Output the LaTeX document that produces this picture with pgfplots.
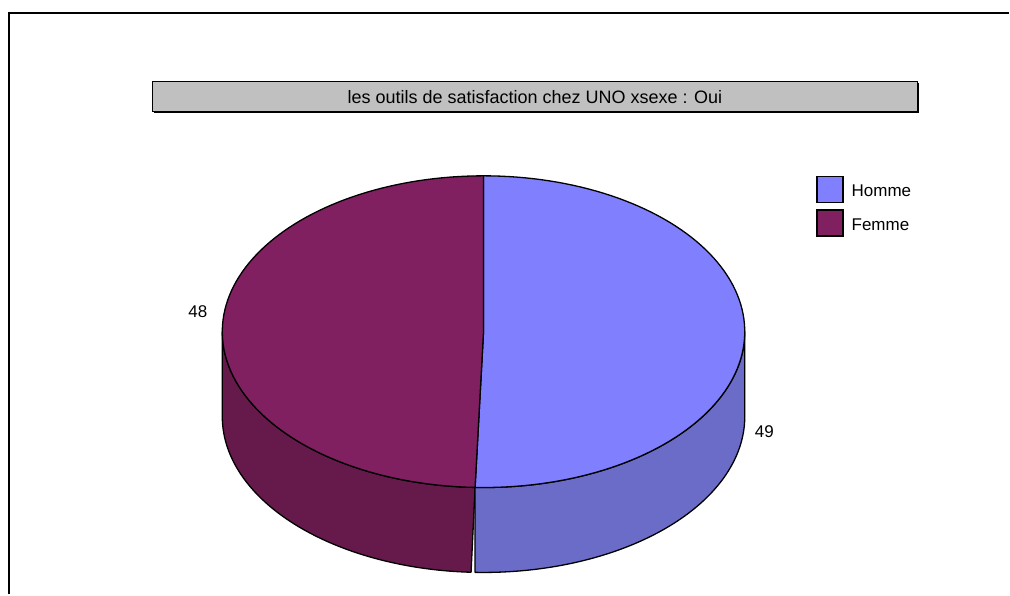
\documentclass[border=0pt]{standalone}
\usepackage{fontspec}
\setmainfont{Liberation Sans}
\usepackage{pgfplots}
\usepackage{pgfplotstable}
\pgfplotsset{compat=1.18}
\definecolor{homtop}{RGB}{128,128,255}
\definecolor{homside}{RGB}{107,107,200}
\definecolor{femtop}{RGB}{128,32,96}
\definecolor{femside}{RGB}{102,26,76}
\definecolor{titlegray}{RGB}{192,192,192}

\pgfplotstableread{
label value
Homme 49
Femme 48
}\piedata

\def\cx{484}\def\cy{332}\def\rx{261.5}\def\ry{156}\def\dd{85}

\newcommand\sideplot[3]{%
\addplot[fill=#1, draw=black, line width=1.3pt, line join=round, domain=0:2, samples=201, variable=\t, forget plot]
 ({\cx+\rx*cos(ifthenelse(\t<1.001, (#2)+((#3)-(#2))*\t, (#3)-((#3)-(#2))*(\t-1)))},
  {\cy-\ry*sin(ifthenelse(\t<1.001, (#2)+((#3)-(#2))*\t, (#3)-((#3)-(#2))*(\t-1)))+ifthenelse(\t<1.001,0,\dd)}) -- cycle;}

\newcommand\sectorplot[3]{%
\addplot[fill=#1, draw=black, line width=1.3pt, line join=round, samples at={-1,0,1,...,100}, variable=\t, forget plot]
 ({ifthenelse(\t<0, \cx, \cx+\rx*cos((#2)+((#3)-(#2))*\t/100))},
  {ifthenelse(\t<0, \cy, \cy-\ry*sin((#2)+((#3)-(#2))*\t/100))}) -- cycle;}

\begin{document}%
\pgfplotstablegetelem{0}{value}\of\piedata \edef\vH{\pgfplotsretval}%
\pgfplotstablegetelem{1}{value}\of\piedata \edef\vF{\pgfplotsretval}%
\pgfmathsetmacro\aB{90-360*(\vH/(\vH+\vF))}%
\pgfmathsetmacro\aF{360+\aB}%
\begin{tikzpicture}
\begin{axis}[
  width=1010pt, height=595pt, scale only axis,
  xmin=0, xmax=1010, ymin=0, ymax=595, y dir=reverse,
  hide axis, clip=false,
  legend style={at={(axis cs:817,176)}, anchor=north west, draw=none, fill=none,
    inner sep=0pt, row sep=6pt, column sep=8pt,
    font=\fontsize{17}{20}\selectfont, nodes={inner sep=0pt}},
  legend cell align=left,
  legend image code/.code={\draw[#1,draw=black,line width=1.3pt] (0pt,-11pt) rectangle (26pt,15pt);},
]
% keep the full canvas as bounding box
\path (axis cs:0,0) rectangle (axis cs:1010,595);
% side walls
\sideplot{femside}{180}{\aF}
\sideplot{homside}{\aF}{360}
% top faces
\sectorplot{homtop}{\aB}{90}
\sectorplot{femtop}{90}{\aF}

\addlegendimage{fill=homtop}
\addlegendentry{Homme}
\addlegendimage{fill=femtop}
\addlegendentry{Femme}

% data labels
\node[font=\fontsize{17}{20}\selectfont] at (axis cs:198,312) {\vF};
\node[font=\fontsize{17}{20}\selectfont] at (axis cs:765,432) {\vH};

% title box
\node[fill=titlegray, draw=black, line width=1pt, minimum width=765pt, minimum height=30pt,
  inner sep=0pt, font=\fontsize{18}{21}\selectfont] at (axis cs:535.5,97)
  {les outils de satisfaction chez UNO xsexe : Oui};
\draw[line width=2pt] (axis cs:154,112) -- (axis cs:919,112) -- (axis cs:919,83);

% outer frame
\draw[line width=2pt] (axis cs:9,595) -- (axis cs:9,13) -- (axis cs:1010,13);
\end{axis}
\end{tikzpicture}%
\end{document}
